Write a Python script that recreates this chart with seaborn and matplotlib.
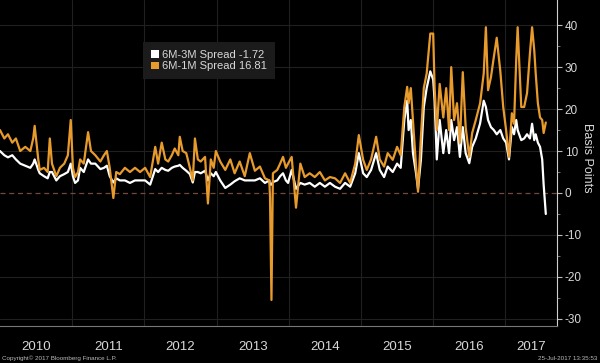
import matplotlib
matplotlib.use("Agg")
import matplotlib.pyplot as plt
import matplotlib.patches as mpatches
import numpy as np
import pandas as pd
import seaborn as sns

# decimal-year positions of the readings
t = [2010.00, 2010.06, 2010.11, 2010.17, 2010.22, 2010.28, 2010.35, 2010.42, 2010.46, 2010.48,
     2010.53, 2010.55, 2010.61, 2010.66, 2010.69, 2010.72, 2010.78, 2010.83, 2010.89, 2010.94,
     2010.98, 2011.01, 2011.04, 2011.08, 2011.11, 2011.16, 2011.22, 2011.26, 2011.32, 2011.39,
     2011.44, 2011.48, 2011.52, 2011.57, 2011.61, 2011.66, 2011.73, 2011.80, 2011.87, 2011.94,
     2012.01, 2012.08, 2012.15, 2012.19, 2012.24, 2012.29, 2012.33, 2012.38, 2012.42, 2012.47,
     2012.49, 2012.53, 2012.58, 2012.63, 2012.67, 2012.70, 2012.74, 2012.78, 2012.84, 2012.88,
     2012.92, 2012.96, 2012.99, 2013.05, 2013.12, 2013.19, 2013.25, 2013.32, 2013.39, 2013.46,
     2013.53, 2013.60, 2013.67, 2013.73, 2013.74, 2013.76, 2013.78, 2013.84, 2013.88, 2013.92,
     2013.96, 2013.99, 2014.04, 2014.10, 2014.16, 2014.22, 2014.29, 2014.36, 2014.43, 2014.50,
     2014.57, 2014.64, 2014.71, 2014.78, 2014.85, 2014.92, 2014.97, 2015.03, 2015.08, 2015.14,
     2015.21, 2015.26, 2015.32, 2015.37, 2015.44, 2015.50, 2015.55, 2015.60, 2015.64, 2015.66,
     2015.69, 2015.72, 2015.76, 2015.79, 2015.83, 2015.87, 2015.91, 2015.96, 2016.00, 2016.02,
     2016.05, 2016.09, 2016.14, 2016.18, 2016.22, 2016.25, 2016.29, 2016.33, 2016.37, 2016.41,
     2016.45, 2016.50, 2016.54, 2016.59, 2016.65, 2016.70, 2016.73, 2016.76, 2016.80, 2016.84,
     2016.88, 2016.93, 2016.97, 2017.01, 2017.05, 2017.09, 2017.12, 2017.15, 2017.17, 2017.22,
     2017.26, 2017.30, 2017.34, 2017.37, 2017.40, 2017.42, 2017.45, 2017.48, 2017.51, 2017.53,
     2017.56]

spread_6m3m = [10, 9, 8.5, 9, 8, 7, 6.5, 6, 7, 8,
               5.5, 4.7, 4, 3.5, 5, 5, 3, 4, 4.5, 5,
               7, 4, 2.4, 3, 6, 5, 8, 7, 7, 5.7,
               6, 6.5, 4, 2.5, 3.5, 3, 3, 2.4, 3, 3,
               3, 2, 5.7, 5, 6, 5.5, 5.3, 6, 6.3, 6.5,
               6.7, 6, 5.3, 4.5, 2.5, 5, 5, 4.7, 5.3, 3,
               4.7, 4, 5, 3, 1.2, 2, 2.8, 3.5, 3, 3,
               3, 3.5, 2.4, 3, 2, 2, 2.6, 3, 4, 4.7,
               3, 2.4, 5.5, 1, 2.4, 2, 2.4, 1.5, 2.4, 1.5,
               2.4, 1.5, 1, 2.4, 1.5, 4.7, 9.5, 4.7, 3.8, 5.5,
               9.5, 5.5, 3.8, 6.3, 5, 7, 6, 17.4, 22, 15,
               17.4, 9.5, 5, 1, 7.9, 20.5, 25, 29, 27, 22,
               8, 17.4, 9.5, 15, 9.5, 17.4, 12.6, 15.7, 8.6, 15.7,
               9.5, 7.1, 11, 13, 16.6, 22, 20.5, 17.4, 15.7, 15,
               14, 15, 13, 12, 8, 15.7, 14, 17.4, 15, 12.6,
               13, 14, 13, 16.5, 12.6, 14, 12, 11, 8, 2,
               -5]

spread_6m1m = [15, 13, 14, 12, 13, 10, 11, 10, 13, 16,
               8, 5.5, 6, 5, 13, 7, 4, 6, 7, 9,
               17.4, 6, 3.8, 5, 8, 7, 14.5, 10, 9, 7.5,
               9, 10, 6, -1.2, 5, 4.5, 6, 5, 6, 5,
               6, 3.8, 11, 7, 12, 8, 7.5, 9, 10.6, 9,
               13.4, 10, 9.5, 6, 3, 13, 8, 7.5, 8.6, -2.5,
               8, 6, 10, 7.5, 5.5, 8, 4.7, 7.5, 4, 9.5,
               5.3, 6.3, 3.5, 3, -1, -25.5, 4.7, 5.5, 7, 8.6,
               6, 7, 8.6, -3.5, 7, 3.8, 4.7, 3.8, 5, 3,
               3.8, 3.5, 2.4, 4.7, 2.4, 7, 13.8, 7.9, 5.5, 8,
               13.4, 8, 6.3, 9.5, 7.9, 11, 9, 20.5, 25.3, 21.4,
               25, 17.4, 7, 0.3, 13.4, 25, 28.5, 38, 38, 25,
               15, 26, 18, 25, 15, 30, 17.4, 21.4, 12, 28.8,
               15.7, 8.6, 14.3, 17.4, 21.4, 28.5, 39.5, 24.5, 27.6, 32.4,
               37, 29, 20.5, 15, 8.6, 19, 16.5, 31.7, 39.5, 20.5,
               20.5, 23.8, 33.3, 39.5, 34, 28.5, 21.4, 18, 17.4, 14.3,
               16.8]

series_names = ['6M-3M Spread -1.72', '6M-1M Spread 16.81']
year_labels = ['2010', '2011', '2012', '2013', '2014', '2015', '2016', '2017']
y_ticks = [-30, -20, -10, 0, 10, 20, 30, 40]

ORANGE = '#e89b2d'
GRID = '#202020'
TXT = '#d8d8d8'

df = pd.DataFrame({'t': t, series_names[0]: spread_6m3m, series_names[1]: spread_6m1m})
long = df.melt('t', var_name='series', value_name='bp')

sns.set_style('dark')
plt.rcParams['font.family'] = ['Liberation Sans', 'DejaVu Sans']

fig = plt.figure(figsize=(6, 3.63), dpi=100, facecolor='black')
ax = fig.add_axes([0, 37 / 363, 557 / 600, 326 / 363])
ax.set_facecolor('black')

x_end = 2017.715
ax.set_xlim(2010, x_end)
ax.set_ylim(-31.7, 46)

# grid
for yv in y_ticks:
    if yv != 0:
        ax.axhline(yv, color=GRID, lw=0.8, zorder=0)
for i in range(1, len(year_labels)):
    ax.axvline(2010 + i, color=GRID, lw=0.8, zorder=0)
ax.axhline(0, color='#744a3e', lw=0.9, ls=(0, (4, 3)), zorder=1)

sns.lineplot(data=long, x='t', y='bp', hue='series', hue_order=series_names,
             palette={series_names[0]: 'white', series_names[1]: ORANGE},
             linewidth=1.6, estimator=None, legend=False, ax=ax, zorder=3)

# y axis on the right
ax.yaxis.tick_right()
ax.set_yticks(y_ticks)
ax.set_yticklabels([str(v) for v in y_ticks])
ax.set_yticks([v + 5 for v in y_ticks[:-1]], minor=True)
ax.tick_params(axis='y', which='major', colors='#bbbbbb', labelcolor=TXT, length=3.5,
               width=0.8, pad=2, labelsize=8.5, direction='out')
ax.tick_params(axis='y', which='minor', colors='#888888', length=2, width=0.6, direction='out')
ax.set_ylabel('')
ax.grid(False)

# x axis: year separators and centred labels
ax.set_xticks([2010 + i for i in range(1, len(year_labels))])
ax.set_xticklabels([])
ax.tick_params(axis='x', which='major', colors='#777777', length=23, width=0.8, direction='out')
centers = [2010.5 + i for i in range(len(year_labels) - 1)] + [(2017 + x_end) / 2]
ax.set_xticks(centers, minor=True)
ax.set_xticklabels(year_labels, minor=True)
ax.tick_params(axis='x', which='minor', length=0, labelcolor=TXT, labelsize=9.5, pad=11)
ax.set_xlabel('')

for s in ['top', 'left']:
    ax.spines[s].set_visible(False)
ax.spines['right'].set_color('#cfcfcf')
ax.spines['right'].set_linewidth(0.8)
ax.spines['bottom'].set_color('#777777')
ax.spines['bottom'].set_linewidth(0.8)

handles = [mpatches.Patch(facecolor='white', edgecolor='none'),
           mpatches.Patch(facecolor=ORANGE, edgecolor='none')]
leg = ax.legend(handles, series_names, loc='upper left',
                bbox_to_anchor=(143 / 557, 1 - 42 / 326), frameon=True, facecolor='#1b1b1b',
                edgecolor='none', framealpha=1, fancybox=False, fontsize=8, labelcolor=TXT,
                handlelength=0.7, handleheight=0.7, handletextpad=0.3, borderpad=0.7,
                labelspacing=0.15, borderaxespad=0)

fig.text(587 / 600, 1 - 158 / 363, 'Basis Points', rotation=270, ha='center', va='center',
         color=TXT, fontsize=9)
fig.text(0.004, 0.006, 'Copyright\u00a9 2017 Bloomberg Finance L.P.', color='#bbbbbb',
         fontsize=4.5, ha='left', va='bottom')
fig.text(0.996, 0.006, '25-Jul-2017 13:35:53', color='#bbbbbb', fontsize=4.5,
         ha='right', va='bottom')

fig.savefig('out.png', dpi=100, facecolor='black')
